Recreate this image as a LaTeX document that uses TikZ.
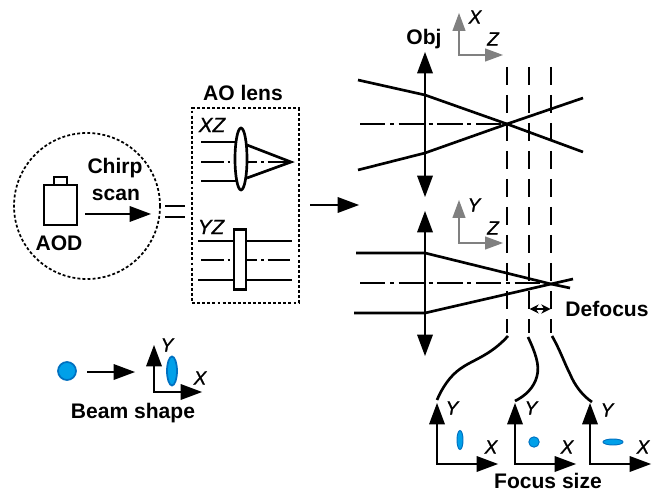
\documentclass[tikz,border=0pt]{standalone}
\usepackage{fontspec}
\setmainfont{Liberation Sans}
\newfontface\axfont{Liberation Sans Italic}[FakeBold=1]
\usetikzlibrary{arrows.meta}
\definecolor{beamfill}{HTML}{00A0E9}
\definecolor{beamedge}{HTML}{0070C0}
\definecolor{axgray}{HTML}{808080}
\tikzset{
  lbl/.style={font=\fontsize{15.8}{17}\selectfont\bfseries,inner sep=0pt,text=black},
  axlbl/.style={font=\axfont\fontsize{14.3}{16}\selectfont,inner sep=0pt,text=black},
  xzlbl/.style={font=\axfont\fontsize{15.5}{17}\selectfont,inner sep=0pt,text=black},
  ray/.style={line width=2pt,line join=round},
  thinline/.style={line width=2pt},
  dotbox/.style={line width=1.3pt,dash pattern=on 2.2pt off 1.6pt},
  axisdash/.style={line width=0.9pt,dash pattern=on 19pt off 3.5pt on 3pt off 3.5pt},
  axisdashs/.style={line width=0.9pt,dash pattern=on 17pt off 3pt on 2pt off 3pt},
  guide/.style={line width=1.2pt,dash pattern=on 13.5pt off 7.5pt},
  bigarrow/.style={line width=2pt,-{Triangle[length=16pt,width=12pt,line width=0pt]}},
  lensarrow/.style={line width=2.2pt,{Triangle[length=16pt,width=12pt,line width=0pt]}-{Triangle[length=16pt,width=12pt,line width=0pt]}},
  axes/.style={line width=2pt,line join=miter,{Triangle[length=16pt,width=12pt,line width=0pt]}-{Triangle[length=16pt,width=12pt,line width=0pt]}},
  grayaxes/.style={line width=1.2pt,draw=axgray,color=axgray,{Triangle[length=13.5pt,width=10pt,line width=0pt]}-{Triangle[length=13.5pt,width=10pt,line width=0pt]}},
  spot/.style={draw=beamedge,fill=beamfill,line width=0.7pt},
  curve/.style={line width=2pt},
}
\begin{document}
\begin{tikzpicture}[x=0.75pt,y=-0.75pt]
\useasboundingbox (0,0) rectangle (656,491);
% left circle
\node[draw,circle,dotbox,minimum size=109.5pt,inner sep=0pt] (scope) at (87,206) {};
\draw[thinline] (44,185) rectangle (77,225);
\draw[thinline] (54,185) -- (54,177) -- (67,177) -- (67,185);
\node[lbl] (aod) at (59,243) {AOD};
\node[lbl] (chirp) at (115,168) {Chirp};
\node[lbl] (scan) at (116,195) {scan};
\coordinate (ca) at (85,214); \coordinate (cb) at (151,214);
\draw[bigarrow] (ca) -- (cb);
\draw[line width=2.1pt] (165,206) -- (185,206) (165,217) -- (185,217);
% AO lens box
\node[draw,dotbox,minimum width=80pt,minimum height=146pt,inner sep=0pt] (box) at (245.5,205.5) {};
\node[lbl] (aolens) at (243,93) {AO lens};
\node[xzlbl] (xz) at (212,125) {XZ};
\node[xzlbl] (yz) at (211,227) {YZ};
\draw[thinline] (201,142) -- (237,142) (201,181) -- (237,181);
\draw[axisdashs] (201,162) -- (290,162);
\draw[thinline,line join=miter] (247,145) -- (291,162) -- (247,178);
\draw[thinline,fill=white] (241,159) ellipse [x radius=6,y radius=31];
\draw[thinline] (198,241) -- (234,241) (246,241) -- (292,241);
\draw[thinline] (198,280) -- (234,280) (246,280) -- (292,280);
\draw[axisdashs] (201,260) -- (292,260);
\node[draw,thinline,fill=white,minimum width=9pt,minimum height=45pt,inner sep=0pt] (plate) at (240,259.5) {};
% arrow to objective
\coordinate (ma) at (310,205); \coordinate (mb) at (359,205);
\draw[bigarrow] (ma) -- (mb);
% guides
\draw[guide] (507,67) -- (507,333);
\draw[guide] (529,67) -- (529,333);
\draw[guide] (551,67) -- (551,333);
% upper objective
\node[lbl] (obj) at (424,39) {Obj};
\draw[axisdash] (360,124) -- (507,124);
\draw[ray] (358,80) -- (425,95) -- (507,124) -- (583,152);
\draw[ray] (358,170) -- (425,153) -- (507,124) -- (583,98);
\coordinate (o1a) at (425,52); \coordinate (o1b) at (425,197);
\draw[lensarrow] (o1a) -- (o1b);
\coordinate (g1x) at (459,13); \coordinate (g1o) at (459,55); \coordinate (g1z) at (503,55);
\draw[grayaxes] (g1x) -- (g1o) -- (g1z);
\node[axlbl] (lx1) at (475,17) {X};
\node[axlbl] (lz1) at (493,39) {Z};
% lower objective
\draw[axisdash] (360,283) -- (551,283);
\draw[ray] (356,253) -- (425,253) -- (551,284) -- (570,288);
\draw[ray] (354,313) -- (425,313) -- (551,284) -- (573,279);
\coordinate (o2a) at (425,211); \coordinate (o2b) at (425,356);
\draw[lensarrow] (o2a) -- (o2b);
\coordinate (g2y) at (459,200); \coordinate (g2o) at (459,243); \coordinate (g2z) at (503,243);
\draw[grayaxes] (g2y) -- (g2o) -- (g2z);
\node[axlbl] (ly2) at (474,205) {Y};
\node[axlbl] (lz2) at (493,228) {Z};
% defocus
\coordinate (da) at (529.5,309); \coordinate (db) at (550.5,309);
\draw[line width=1.3pt,{Stealth[length=7pt,width=7pt,line width=0pt]}-{Stealth[length=7pt,width=7pt,line width=0pt]}] (da) -- (db);
\node[lbl] (defocus) at (607,309) {Defocus};
% curves
\coordinate (c1s) at (508,336); \coordinate (c2s) at (528,337); \coordinate (c3s) at (552,336);
\coordinate (c1e) at (437,400); \coordinate (c2e) at (515,401); \coordinate (c3e) at (592,402);
\draw[curve] (c1s) .. controls (490,356) and (472,360) .. (460,369) .. controls (450,376) and (442,388) .. (c1e);
\draw[curve] (c2s) .. controls (535,352) and (540,365) .. (537,376) .. controls (534,388) and (525,396) .. (c2e);
\draw[curve] (c3s) .. controls (560,350) and (564,362) .. (570,374) .. controls (575,386) and (583,396) .. (c3e);
% focus axes
\coordinate (f1y) at (437,403); \coordinate (f1o) at (437,464); \coordinate (f1x) at (498,464);
\draw[axes] (f1y) -- (f1o) -- (f1x);
\node[axlbl] (fy1) at (452,408) {Y};
\node[axlbl] (fx1) at (491,447) {X};
\draw[spot] (460,440) ellipse [x radius=3,y radius=9.5];
\coordinate (f2y) at (515,403); \coordinate (f2o) at (515,464); \coordinate (f2x) at (576,464);
\draw[axes] (f2y) -- (f2o) -- (f2x);
\node[axlbl] (fy2) at (531,408) {Y};
\node[axlbl] (fx2) at (567,447) {X};
\draw[spot] (534,442) circle [radius=5.2];
\coordinate (f3y) at (590,403); \coordinate (f3o) at (590,464); \coordinate (f3x) at (651,464);
\draw[axes] (f3y) -- (f3o) -- (f3x);
\node[axlbl] (fy3) at (607,410) {Y};
\node[axlbl] (fx3) at (643,447) {X};
\draw[spot] (613,442) ellipse [x radius=10,y radius=3];
\node[lbl] (focus) at (548,481) {Focus size};
% beam shape
\draw[draw=beamedge,fill=beamfill,line width=1.3pt] (67,371) circle [radius=9];
\coordinate (ba) at (87,372); \coordinate (bb) at (135,372);
\draw[bigarrow] (ba) -- (bb);
\coordinate (b1y) at (154,345); \coordinate (b1o) at (154,392); \coordinate (b1x) at (202,392);
\draw[axes] (b1y) -- (b1o) -- (b1x);
\draw[draw=beamedge,fill=beamfill,line width=1.3pt] (172,371) ellipse [x radius=5,y radius=14.5];
\node[axlbl] (by) at (167,345) {Y};
\node[axlbl] (bx) at (200,378) {X};
\node[lbl] (beam) at (133,413) {Beam shape};
\end{tikzpicture}
\end{document}
